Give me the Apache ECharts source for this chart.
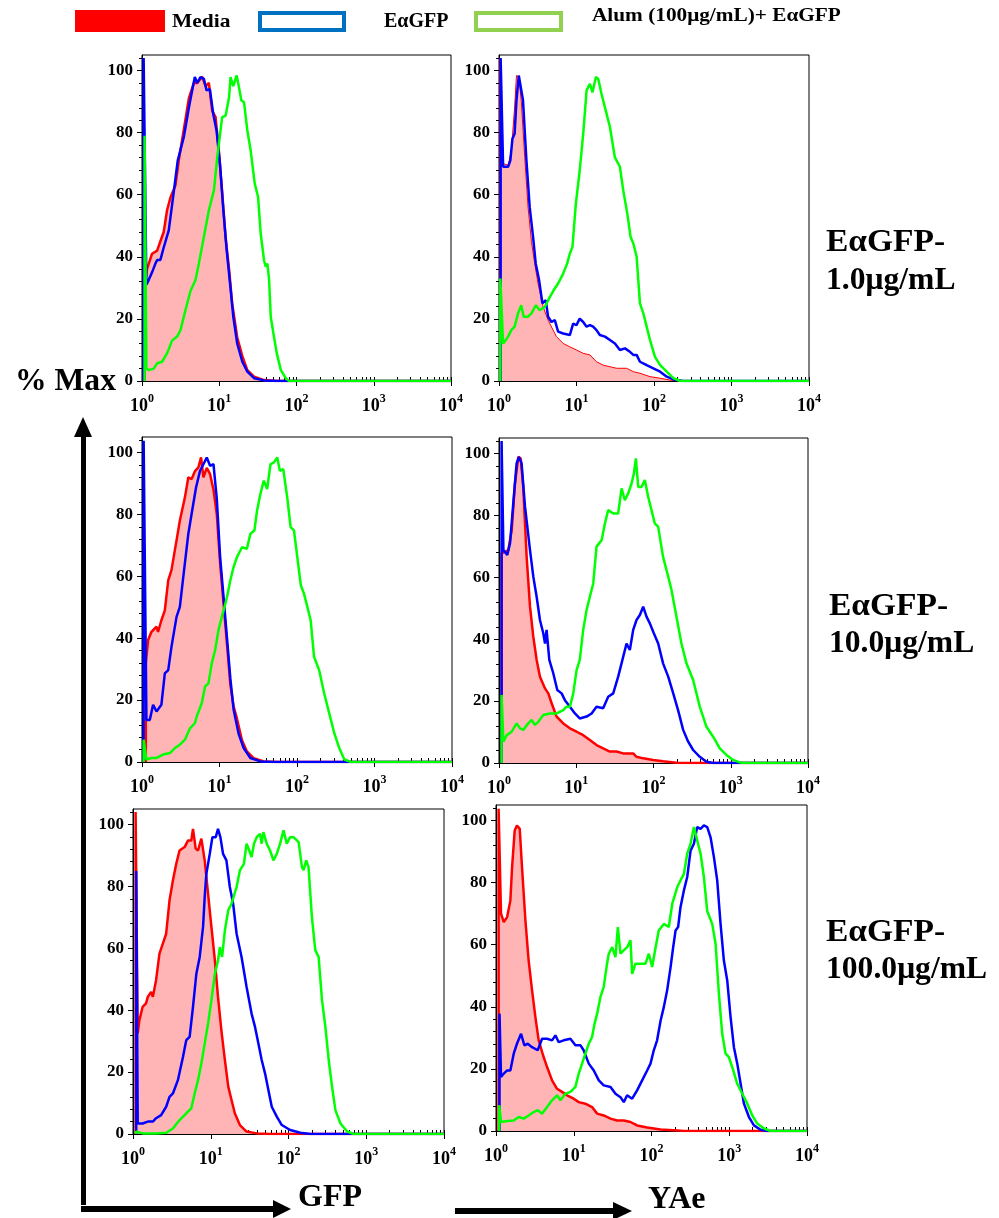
<!DOCTYPE html>
<html>
<head>
<meta charset="utf-8">
<script src="https://cdn.jsdelivr.net/npm/echarts@6/dist/echarts.min.js"></script>
<style>html,body{margin:0;padding:0;background:#fff}#c{width:999px;height:1218px}</style>
</head>
<body>
<div id="c"></div>
<script>
// ---------- data: [fluorescence, % of max] ----------
const seriesNames = ['Media', 'EαGFP', 'Alum (100μg/mL)+ EαGFP'];
const rowLabels = [['EαGFP-', '1.0μg/mL'], ['EαGFP-', '10.0μg/mL'], ['EαGFP-', '100.0μg/mL']];
const yTickValues = [0, 20, 40, 60, 80, 100];
const xTickExponents = [0, 1, 2, 3, 4];

// Row 1 (EαGFP 1.0 μg/mL) – GFP
const gfp1Media = [[1.08,0],[1.1,32],[1.16,36],[1.35,41],[1.57,42],[1.73,45],[1.91,48],[2.11,55],[2.33,59],[2.71,63],[2.99,71],[3.48,81],[4.04,91],[4.69,96],[5.18,96],[6.01,98],[6.65,95],[7.34,96],[8.11,87],[8.96,85],[9.9,74],[10.9,61],[12.1,46],[13.4,36],[14.7,25],[17.1,14],[19.9,8],[23.1,3.5],[28.2,1.4],[38,0.3],[56.6,0],[10000,0]];
const gfp1Ea = [[1.05,0],[1.05,104],[1.14,31],[1.22,32.5],[1.35,35],[1.42,34.6],[1.49,37.8],[1.57,39],[1.73,39],[1.91,43],[2.22,48.5],[2.58,61],[2.90,71],[3.48,78.6],[4.04,88],[4.46,93.6],[4.83,97.9],[5.18,96],[5.72,97.9],[6.32,97.3],[6.85,93.6],[7.56,94],[8.36,86],[9.23,80.7],[10.2,70],[11.3,55],[12.5,42],[13.8,31.4],[15.2,20.7],[17.1,12],[19.9,6.2],[23.1,3],[28.2,0.9],[38,0.2],[56.6,0],[10000,0]];
const gfp1Alum = [[1.08,0],[1.08,79],[1.14,4],[1.22,3.5],[1.42,4],[1.57,5.7],[1.82,6.2],[2.11,8.9],[2.45,13],[2.85,14.3],[3.15,16.4],[3.65,22.8],[4.24,29],[4.93,32.5],[5.44,37.8],[6.32,46.4],[7.34,55],[8.53,61.4],[9.42,72],[10.9,85],[12.1,85.5],[13.4,91.4],[14.0,97.9],[15.2,95],[16.8,98.4],[18.0,94.6],[19.3,90.4],[20.9,89.8],[23.1,80.7],[25.5,74.3],[28.8,63.6],[31.8,59.3],[34.4,47.5],[38.0,38.9],[40.0,36.8],[42.0,37.8],[44.2,32.5],[46.4,20.7],[50.3,15.3],[55.6,8.9],[62.7,3.5],[72.7,0.9],[80.4,0],[10000,0]];
// Row 1 – YAe
const yae1Media = [[1.02,0],[1.02,104],[1.13,70],[1.31,69.5],[1.44,74],[1.59,88],[1.68,98.4],[1.81,97.9],[1.94,90],[2.15,72],[2.37,56],[2.62,45],[2.89,37.8],[3.19,31.4],[3.71,23.9],[4.30,19.6],[4.99,16.4],[5.51,14.3],[6.73,12.1],[8.20,11],[10.0,10],[12.2,8.9],[14.9,8.4],[18.1,6.2],[22.1,5.1],[27.0,4.6],[32.9,4.1],[44.3,4.1],[54.1,3],[65.9,2.5],[88.8,1.4],[120,0.9],[161,0.3],[239,0],[10000,0]];
const yae1Ea = [[1.05,0],[1.05,104],[1.13,69],[1.31,69],[1.40,71],[1.49,78],[1.59,79.6],[1.68,90.4],[1.80,98.4],[1.91,97.9],[2.04,90.4],[2.26,71],[2.49,56],[2.75,46.4],[2.98,37.8],[3.29,32.5],[3.63,25],[4.01,26],[4.30,20.7],[4.75,19],[5.25,19.6],[5.79,15.9],[6.73,15.3],[8.20,14.8],[9.05,18.5],[10.0,18],[11.0,20.1],[12.2,19],[13.5,17.5],[14.9,18],[16.4,17.5],[18.1,16.4],[20.0,14.8],[23.3,14.3],[27.0,13.2],[31.3,12.1],[36.3,10],[42.2,10.5],[48.9,9.4],[54.1,8.4],[59.7,8.4],[65.9,6.2],[80.4,5.1],[98.0,4.1],[120,3],[146,1.4],[178,0.5],[239,0],[10000,0]];
const yae1Alum = [[1.04,0],[1.04,33],[1.13,12],[1.18,11.6],[1.31,14.3],[1.44,16.4],[1.59,17.5],[1.76,21.8],[1.94,24.4],[2.08,20.7],[2.37,20.7],[2.62,21.8],[2.98,24.4],[3.36,22.8],[3.90,23.9],[4.52,27],[5.09,29.3],[5.79,31.4],[6.73,34.6],[7.57,37.8],[8.20,41],[8.87,43.2],[9.80,57],[11.0,67.8],[12.2,79.6],[13.5,93.6],[14.9,95.7],[16.1,93],[17.8,97.9],[19.1,97.3],[21.0,92.5],[23.9,87],[27.0,81.8],[31.3,72],[36.3,69],[40.1,61.4],[45.2,54],[49.9,46.4],[54.1,44.3],[59.7,40],[65.9,25],[72.8,21.8],[80.4,17.5],[88.8,13.2],[103,7.8],[120,5.1],[146,3],[178,0.9],[217,0],[10000,0]];

// Row 2 (EαGFP 10.0 μg/mL) – GFP
const gfp10Media = [[1.12,0],[1.12,31.9],[1.20,39.4],[1.32,42],[1.54,43.7],[1.61,42],[1.78,45.8],[1.97,49],[2.18,58.7],[2.40,62],[2.79,71.6],[3.08,78],[3.58,85.5],[3.96,92],[4.37,91.4],[4.83,94],[5.34,95.2],[5.78,98.4],[6.20,92],[6.85,95],[7.56,93],[8.36,88],[9.23,80],[10.2,64],[11.3,51],[12.5,38],[13.8,25],[15.2,18],[16.8,14],[19.5,7],[22.6,3.4],[27.7,1.2],[37.3,0.2],[55.6,0],[10000,0]];
const gfp10Ea = [[1.05,0],[1.05,103.8],[1.14,13.6],[1.26,13.6],[1.39,18.5],[1.54,16.3],[1.78,18.5],[1.97,28.6],[2.18,29.7],[2.40,37.2],[2.79,46.9],[3.08,50.1],[3.41,59.8],[3.96,73.7],[4.37,80.2],[4.98,88.7],[5.61,94.1],[6.20,96.2],[6.85,98.4],[7.56,95.7],[8.36,96.2],[9.23,85],[10.2,66],[11.3,53],[12.5,40],[13.8,27],[15.2,17],[17.7,9],[20.5,4.5],[25.0,1.3],[33.7,0.2],[50.3,0],[10000,0]];
const gfp10Alum = [[1.05,0],[1.05,7.2],[1.14,0.8],[1.32,1.3],[1.54,1.3],[1.87,2.4],[2.29,2.9],[2.66,4.5],[3.08,5.6],[3.58,7.2],[4.16,10.9],[4.83,12.6],[5.08,14.7],[5.90,19],[6.51,24.4],[7.20,25.4],[7.95,31.9],[8.79,36.2],[9.70,42.6],[10.7,46.9],[11.3,49],[12.5,53.3],[13.8,58.7],[15.2,63],[16.8,66.2],[19.5,69.4],[22.6,68.9],[25.0,73.7],[28.2,74.8],[30.5,81.2],[33.7,86.6],[37.3,90.9],[41.2,88.2],[45.5,96.2],[50.3,96.8],[55.6,98.4],[60.1,94.1],[66.5,94.6],[74.8,85.5],[82.7,75.9],[91.4,74.8],[101,66.2],[112,57.1],[123,54.4],[136,50.1],[150,45.8],[166,34],[193,29.7],[224,22.2],[260,15.8],[303,9.3],[351,4.5],[408,0.8],[498,0],[10000,0]];
// Row 2 – YAe
const yae10Media = [[1.08,0],[1.08,67.7],[1.14,67.7],[1.32,68.8],[1.46,75.2],[1.61,90.3],[1.78,98.9],[1.91,98.4],[2.06,89.2],[2.28,66.6],[2.52,50.5],[2.78,40.8],[3.07,33.3],[3.39,27.9],[3.94,24.1],[4.35,22.5],[4.80,19.3],[5.57,15],[6.79,12.8],[8.28,11.2],[10.1,10.1],[12.3,9],[15.0,7.4],[18.3,5.8],[22.3,4.7],[27.2,3.7],[33.2,3.7],[40.5,3.1],[54.6,3.1],[60.3,2],[73.5,1.5],[99.0,1],[133,0.6],[198,0.1],[295,0],[10000,0]];
const yae10Ea = [[1.08,0],[1.08,104],[1.14,68.8],[1.28,67.2],[1.39,71],[1.53,83.9],[1.69,96.8],[1.81,98.9],[1.96,96.8],[2.17,82.9],[2.52,68.8],[2.78,60.2],[3.07,53.7],[3.39,46.2],[3.74,41.9],[3.94,38.6],[4.13,43],[4.48,33.3],[5.04,29],[5.68,23.6],[6.46,22.5],[7.13,20.3],[8.28,18.2],[9.61,16],[11.1,14.4],[13.6,15],[15.8,16],[18.3,18.2],[22.3,17.7],[25.9,21.4],[30.1,22.5],[34.9,27.9],[40.5,34.3],[44.8,38.6],[49.4,36.5],[54.6,43],[60.3,46.2],[66.6,47.8],[73.5,50.5],[81.2,47.3],[89.7,45.1],[101,41.9],[115,38.6],[133,32.2],[155,27.9],[180,22.5],[208,17.1],[242,10.7],[281,6.9],[326,4.2],[397,2],[485,0.4],[591,0],[10000,0]];
const yae10Alum = [[1.08,0],[1.08,22],[1.14,6.9],[1.26,9],[1.46,10.1],[1.69,12.8],[1.87,11.2],[2.06,10.7],[2.39,12.8],[2.64,13.9],[2.92,12.3],[3.23,13.3],[3.74,15.5],[4.56,16],[5.57,16],[6.79,17.1],[7.50,18.2],[8.28,18.2],[9.15,22.5],[10.1,30],[11.1,33.3],[12.3,43],[13.6,49.4],[15.0,53.7],[16.6,58],[18.3,69.9],[21.3,72],[23.5,77.4],[25.9,81.7],[30.1,80.6],[34.9,80.6],[38.6,88.7],[42.6,84.9],[47.0,87.1],[52.0,90.3],[55.7,93.5],[59.1,98.4],[63.4,89.2],[70.0,89.2],[77.3,91.4],[85.3,86],[94.2,81.7],[104,77.4],[115,76.3],[133,66.6],[155,60.2],[171,55.9],[198,47.3],[230,38.6],[267,32.2],[326,26.8],[397,18.2],[485,11.7],[591,8.5],[721,4.7],[879,2.6],[1072,1],[1307,0.2],[1594,0],[10000,0]];

// Row 3 (EαGFP 100.0 μg/mL) – GFP
const gfp100Media = [[1.08,0],[1.08,104],[1.15,32.5],[1.21,36.8],[1.33,41.1],[1.47,42.2],[1.55,44.3],[1.71,45.9],[1.80,44.3],[1.98,49.7],[2.19,58.3],[2.42,61.5],[2.67,64.7],[2.95,75.5],[3.26,81.9],[3.60,87.3],[3.97,91.6],[4.61,92.7],[5.09,94.8],[5.62,94.8],[5.91,98.6],[6.40,92.2],[6.86,91.6],[7.57,95.4],[8.36,88.4],[9.24,77.6],[10.2,66.9],[11.3,56.1],[12.4,44.3],[13.7,33.5],[15.2,23.9],[16.8,15.3],[18.5,11],[20.4,6.7],[23.7,2.9],[28.9,0.8],[39.0,0.2],[57.9,0],[10000,0]];
const gfp100Ea = [[1.10,0],[1.10,85],[1.15,3.4],[1.33,3.4],[1.55,4],[1.80,4],[1.98,5.1],[2.30,6.1],[2.67,8.8],[2.95,12],[3.26,13.1],[3.78,17.4],[4.39,24.9],[4.84,30.3],[5.35,31.4],[5.91,41.1],[6.53,51.8],[7.21,57.2],[7.96,66.9],[8.36,76.6],[8.78,84.1],[9.71,90.5],[10.5,95.9],[11.6,95.9],[12.4,98.6],[13.3,95.9],[14.4,90.5],[15.9,88.4],[17.6,79.8],[19.4,74.4],[21.5,64.7],[24.9,57.2],[28.9,47.5],[33.5,38.9],[37.1,34.6],[41.0,29.2],[45.2,23.9],[49.9,19.6],[55.1,14.2],[60.9,8.8],[70.7,5.6],[82.0,2.9],[105,1.3],[142,0.4],[191,0],[10000,0]];
const gfp100Alum = [[1.09,0],[1.09,0.8],[1.33,0.2],[1.98,0.2],[2.67,0.4],[3.26,1.8],[3.97,4.5],[4.84,6.7],[5.62,8.3],[6.21,13.1],[6.86,17.4],[7.57,22.8],[8.36,29.2],[9.24,35.7],[10.2,43.2],[11.3,51.8],[12.4,56.1],[13.1,60.4],[14.0,57.2],[15.2,65.8],[16.8,72.3],[18.5,74.4],[21.5,79.8],[23.7,85.2],[26.7,87.3],[28.9,93.8],[31.3,91.6],[33.5,89.5],[36.0,93.8],[39.0,95.9],[43.0,97],[45.2,93.8],[47.5,97.5],[52.5,93.8],[57.9,91.6],[64.0,88.4],[70.7,90.5],[78.0,93.8],[86.2,98.1],[95.1,93.8],[105,95.9],[116,95.9],[135,94.3],[149,86.2],[156,85.2],[169,88.4],[181,86.2],[200,70.1],[221,59.4],[244,57.2],[270,43.2],[298,34.6],[329,23.9],[363,15.3],[401,7.7],[466,3.4],[568,0.8],[693,0],[10000,0]];
// Row 3 – YAe
const yae100Media = [[1.08,0],[1.08,103.8],[1.16,70],[1.26,67.3],[1.39,68.9],[1.53,74.2],[1.61,85],[1.74,96.8],[1.86,98.4],[2.02,97.3],[2.16,85],[2.39,67.8],[2.63,54.9],[2.91,45.3],[3.21,36.7],[3.54,29.2],[4.03,24.4],[4.54,20.6],[5.26,16.3],[6.10,13.6],[7.08,12.6],[8.20,11.5],[10.0,10.4],[11.6,9.3],[14.1,8.8],[17.2,7.7],[20.0,5.6],[24.3,5],[29.7,4],[36.1,3.4],[44.0,3.4],[53.7,2.9],[65.3,1.8],[87.9,1.1],[131,0.5],[214,0.2],[261,0],[10000,0]];
const yae100Ea = [[1.11,0],[1.11,37.8],[1.16,17.4],[1.26,18.5],[1.39,19.5],[1.53,19.5],[1.69,24.9],[1.86,28.1],[2.10,31.3],[2.32,27.6],[2.56,28.1],[2.91,27],[3.44,26],[3.91,29.7],[4.54,29.7],[5.26,29.2],[5.81,30.8],[6.41,28.6],[7.43,29.2],[9.06,29.7],[10.5,27.6],[12.2,27.6],[13.4,26],[15.6,21.7],[18.1,19.5],[21.0,16.3],[24.3,14.7],[29.7,14.2],[34.4,12],[39.9,10.9],[44.0,9.3],[48.6,11.5],[56.4,10.4],[65.3,13.1],[75.8,16.3],[87.9,19.5],[97.1,21.7],[107,26],[118,29.2],[131,35.6],[144,39.9],[159,45.3],[176,52.8],[190,59.2],[204,64.6],[220,65.7],[236,72.1],[261,77.5],[288,81.8],[318,90.3],[351,92.5],[387,97.9],[428,97.3],[472,98.4],[521,97.9],[575,94.6],[635,88.2],[700,80.7],[773,66.7],[853,54.9],[942,48.5],[1040,36.7],[1148,27],[1268,21.7],[1400,15.2],[1545,8.8],[1792,4.5],[2078,1.8],[2532,0.4],[3084,0],[10000,0]];
const yae100Alum = [[1.10,0],[1.10,8.3],[1.16,2.9],[1.39,3.2],[1.69,3.4],[1.96,4.5],[2.27,4],[2.63,5],[3.05,6.1],[3.44,6.7],[3.91,5.6],[4.54,7.7],[5.26,9.9],[6.10,11.5],[6.73,9.9],[7.81,12],[9.06,12.6],[10.5,14.2],[11.6,18.5],[12.8,21.7],[14.1,24.9],[15.6,28.1],[17.2,30.3],[18.5,34.5],[20.0,37.8],[22.0,43.1],[24.3,46.4],[26.4,52.8],[28.2,57.1],[31.2,59.2],[34.4,56],[36.9,65.7],[39.9,57.1],[44.0,58.2],[48.6,59.2],[53.7,61.4],[56.4,50.6],[62.2,53.9],[72.1,53.9],[83.7,53.9],[92.4,57.1],[102,52.8],[113,59.2],[124,64.6],[144,66.7],[167,65.7],[185,73.2],[214,78.5],[236,80.7],[261,82.8],[288,89.3],[318,92.5],[351,97.9],[387,93.6],[428,89.3],[472,81.8],[521,70.8],[604,66.7],[667,60.3],[736,44.2],[812,31.3],[897,24.9],[990,23.8],[1126,19.5],[1268,15.2],[1470,12],[1706,8.8],[1978,5],[2295,2.4],[2794,0.8],[3405,0],[10000,0]];

// ---------- layout ----------
const FAM = '"Liberation Serif", "DejaVu Serif", serif';
const panels = [
  { grid: {left:142, top:55,  width:309, height:326}, d: [gfp1Media, gfp1Ea, gfp1Alum], redW: 2.5 },
  { grid: {left:499, top:55,  width:310, height:326}, d: [yae1Media, yae1Ea, yae1Alum], redW: 1 },
  { grid: {left:142, top:437, width:310, height:325}, d: [gfp10Media, gfp10Ea, gfp10Alum], redW: 2.5 },
  { grid: {left:499, top:438, width:309, height:325}, d: [yae10Media, yae10Ea, yae10Alum], redW: 2.5 },
  { grid: {left:133, top:809, width:311, height:325}, d: [gfp100Media, gfp100Ea, gfp100Alum], redW: 2.5 },
  { grid: {left:496, top:805, width:311, height:326}, d: [yae100Media, yae100Ea, yae100Alum], redW: 2.5 }
];

const minorX = [];
for (let e = 0; e < 4; e++) for (let k = 2; k <= 9; k++) minorX.push(e + Math.log10(k));
const majorXPos = xTickExponents.slice();
const minorY = [];
for (let v = 4; v < 105; v += 4) if (v % 20 !== 0) minorY.push(v);

const grid = [], xAxis = [], yAxis = [], series = [];
const colors = ['#ff0000', '#0000ff', '#00ff00'];
panels.forEach((p, g) => {
  grid.push(Object.assign({ show: true, borderColor: '#000', borderWidth: 1, backgroundColor: 'transparent' }, p.grid));
  xAxis.push({
    type: 'log', logBase: 10, min: 1, max: 10000, gridIndex: g, position: 'bottom',
    axisLine: { show: true, lineStyle: { color: '#000', width: 1 } },
    axisTick: { show: true, inside: false, length: 5, lineStyle: { color: '#000' } },
    splitLine: { show: false }, minorTick: { show: false },
    axisLabel: {
      margin: 12, color: '#000',
      formatter: v => '{b|10}{s|' + Math.round(Math.log10(v)) + '}',
      rich: {
        b: { fontFamily: FAM, fontWeight: 'bold', fontSize: 18, lineHeight: 22, verticalAlign: 'bottom', color: '#000' },
        s: { fontFamily: FAM, fontWeight: 'bold', fontSize: 12, lineHeight: 22, verticalAlign: 'top', color: '#000' }
      }
    }
  });
  xAxis.push({
    type: 'value', min: 0, max: 4, gridIndex: g, position: 'bottom',
    axisLine: { show: false },
    axisTick: { show: true, inside: true, length: 4, customValues: minorX.concat(majorXPos), lineStyle: { color: '#000' } },
    axisLabel: { show: false }, splitLine: { show: false }
  });
  yAxis.push({
    type: 'value', min: 0, max: 105, interval: 20, gridIndex: g,
    axisLine: { show: true, lineStyle: { color: '#000', width: 1 } },
    axisTick: { show: true, length: 5, customValues: yTickValues, lineStyle: { color: '#000' } },
    axisLabel: { customValues: yTickValues, margin: 9, color: '#000', fontFamily: FAM, fontWeight: 'bold', fontSize: 17 },
    splitLine: { show: false }
  });
  yAxis.push({
    type: 'value', min: 0, max: 105, gridIndex: g, position: 'left',
    axisLine: { show: false },
    axisTick: { show: true, length: 3, customValues: minorY, lineStyle: { color: '#000' } },
    axisLabel: { show: false }, splitLine: { show: false }
  });
  p.d.forEach((data, i) => {
    const s = {
      type: 'line', name: seriesNames[i], xAxisIndex: 2 * g, yAxisIndex: 2 * g, data: data,
      showSymbol: false, symbol: 'none', silent: true, z: 2 + i,
      lineStyle: { color: colors[i], width: i === 0 ? p.redW : 2.5 }
    };
    if (i === 0) s.areaStyle = { color: '#ffb5b5', opacity: 1 };
    series.push(s);
  });
});

// ---------- decorations ----------
const T = (text, x, y, size, sx) => ({
  type: 'text', x: x, y: y, scaleX: sx || 1,
  style: { text: text, font: 'bold ' + size + 'px ' + FAM, fill: '#000', textVerticalAlign: 'middle', textAlign: 'left' }
});
const graphic = [
  // legend
  { type: 'rect', shape: { x: 75, y: 10, width: 90, height: 22 }, style: { fill: '#ff0000' } },
  T(seriesNames[0], 172, 22, 19, 1.13),
  { type: 'rect', shape: { x: 260, y: 13, width: 84, height: 17 }, style: { fill: '#fff', stroke: '#0070c0', lineWidth: 4 } },
  T(seriesNames[1], 384, 22, 20),
  { type: 'rect', shape: { x: 476, y: 13, width: 85, height: 17 }, style: { fill: '#fff', stroke: '#92d050', lineWidth: 4 } },
  T(seriesNames[2], 592, 16, 19, 1.12),
  // row labels
  T(rowLabels[0][0], 826, 243, 31, 1.08), T(rowLabels[0][1], 826, 281, 31, 1.02),
  T(rowLabels[1][0], 829, 607, 31, 1.08), T(rowLabels[1][1], 829, 644, 31, 1.02),
  T(rowLabels[2][0], 826, 933, 31, 1.08), T(rowLabels[2][1], 826, 970, 31, 1.02),
  // y title + arrows
  T('% Max', 15, 382, 31, 1.02),
  { type: 'rect', shape: { x: 81, y: 434, width: 5, height: 771 }, style: { fill: '#000' } },
  { type: 'polygon', shape: { points: [[74, 437], [92, 437], [83, 417]] }, style: { fill: '#000' } },
  { type: 'rect', shape: { x: 81, y: 1206, width: 194, height: 6 }, style: { fill: '#000' } },
  { type: 'polygon', shape: { points: [[273, 1200], [273, 1218], [291, 1209]] }, style: { fill: '#000' } },
  T('GFP', 298, 1198, 32),
  { type: 'rect', shape: { x: 455, y: 1208, width: 160, height: 6 }, style: { fill: '#000' } },
  { type: 'polygon', shape: { points: [[613, 1202], [613, 1220], [632, 1211]] }, style: { fill: '#000' } },
  T('YAe', 648, 1200, 32)
];

const chart = echarts.init(document.getElementById('c'), null, { renderer: 'canvas' });
chart.setOption({
  animation: false,
  backgroundColor: '#fff',
  grid: grid, xAxis: xAxis, yAxis: yAxis, series: series, graphic: graphic
});
</script>
</body>
</html>
